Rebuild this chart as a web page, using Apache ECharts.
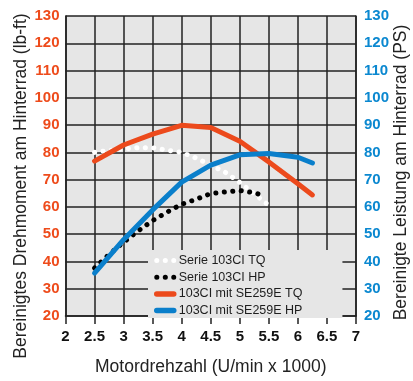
<!DOCTYPE html>
<html>
<head>
<meta charset="utf-8">
<script src="https://cdn.jsdelivr.net/npm/echarts@6/dist/echarts.min.js"></script>
<style>
html,body{margin:0;padding:0;background:#fff;}
#chart{width:413px;height:381px;}
</style>
</head>
<body>
<div id="chart"></div>
<script>
// ---- data ----
var seriesNames = ['Serie 103CI TQ', 'Serie 103CI HP', '103CI mit SE259E TQ', '103CI mit SE259E HP'];
var rpmStockTq = [2.5, 2.75, 3, 3.25, 3.5, 3.75, 4, 4.25, 4.5, 4.75, 5, 5.25, 5.55];
var tqStock    = [80, 80.7, 81.3, 81.7, 81.7, 80.8, 80, 77.9, 75.3, 72.7, 69, 64.8, 59.7];
var rpmStockHp = [2.5, 2.75, 3, 3.25, 3.5, 3.75, 4, 4.25, 4.5, 4.75, 5, 5.25, 5.42];
var hpStock    = [37.6, 42.6, 47, 51.2, 55, 58.1, 61, 62.8, 64.9, 65.5, 66, 65.2, 64.1];
var rpmNew     = [2.5, 3, 3.5, 4, 4.5, 5, 5.5, 6, 6.25];
var tqNew      = [76.8, 82.7, 86.7, 89.9, 89.1, 84.1, 76.5, 68.5, 64.4];
var hpNew      = [35.7, 48, 58.9, 69.1, 75.3, 79.1, 79.6, 78.2, 76.1];
var xTicks = [2, 2.5, 3, 3.5, 4, 4.5, 5, 5.5, 6, 6.5, 7];
var yTicks = [20, 30, 40, 50, 60, 70, 80, 90, 100, 110, 120, 130];
var xTitle = 'Motordrehzahl (U/min x 1000)';
var yLeftTitle = 'Bereinigtes Drehmoment am Hinterrad (lb-ft)';
var yRightTitle = 'Bereinigte Leistung am Hinterrad (PS)';

function pairs(xs, ys) { return xs.map(function (x, i) { return [x, ys[i]]; }); }

var ORANGE = '#ec4a1c', BLUE = '#0a7fcb', GRID = '#222';
var FONT = 'Liberation Sans';
var DOTS = [0.1, 8.4];

var chart = echarts.init(document.getElementById('chart'), null, {renderer: 'canvas'});
chart.setOption({
  animation: false,
  textStyle: {fontFamily: FONT},
  grid: {left: 65.5, right: 57, top: 16, bottom: 52, show: true, backgroundColor: '#e6e6e6', borderWidth: 0},
  xAxis: {
    type: 'value', min: xTicks[0], max: xTicks[xTicks.length - 1], interval: 0.5,
    axisLine: {show: true, lineStyle: {color: GRID, width: 1.5}},
    axisTick: {show: true, length: 8, lineStyle: {color: GRID, width: 1.5}},
    splitLine: {show: true, lineStyle: {color: GRID, width: 1.5}},
    axisLabel: {color: '#111', fontWeight: 'bold', fontSize: 15, fontFamily: FONT, margin: 13,
      formatter: function (v) { return String(v); }},
    name: xTitle, nameLocation: 'middle', nameGap: 42,
    nameTextStyle: {color: '#222', fontSize: 17.5, fontFamily: FONT}
  },
  yAxis: [{
    type: 'value', min: yTicks[0], max: yTicks[yTicks.length - 1], interval: 10,
    axisLine: {show: true, lineStyle: {color: GRID, width: 1.5}},
    axisTick: {show: false},
    splitLine: {show: true, lineStyle: {color: GRID, width: 1.5}},
    axisLabel: {color: '#ee4b1b', fontWeight: 'bold', fontSize: 15, fontFamily: FONT, margin: 6}
  }, {
    type: 'value', position: 'right', min: yTicks[0], max: yTicks[yTicks.length - 1], interval: 10,
    axisLine: {show: true, lineStyle: {color: GRID, width: 1.5}},
    axisTick: {show: false},
    splitLine: {show: false},
    axisLabel: {color: '#0b88d0', fontWeight: 'bold', fontSize: 15, fontFamily: FONT, margin: 8}
  }],
  legend: {
    orient: 'vertical', left: 148, top: 250,
    padding: [4, 40, 1, 6], itemGap: 3.7, itemWidth: 17, itemHeight: 13,
    backgroundColor: '#e6e6e6',
    data: [
      {name: seriesNames[0], lineStyle: {width: 5, type: DOTS, cap: 'round', color: '#ffffff'}},
      {name: seriesNames[1], lineStyle: {width: 5, type: DOTS, cap: 'round', color: '#000000'}},
      {name: seriesNames[2], lineStyle: {width: 5.5, type: 'solid', cap: 'round', color: ORANGE}},
      {name: seriesNames[3], lineStyle: {width: 5.5, type: 'solid', cap: 'round', color: BLUE}}
    ],
    itemStyle: {opacity: 0, borderWidth: 0},
    textStyle: {color: '#1e1e1e', fontSize: 12.5, lineHeight: 13, fontFamily: FONT}
  },
  graphic: [{
    type: 'text', x: 21.5, y: 186, rotation: Math.PI / 2,
    style: {text: yLeftTitle, fill: '#222', font: '17.5px "Liberation Sans"', align: 'center', verticalAlign: 'middle'}
  }, {
    type: 'text', x: 401.5, y: 172.5, rotation: Math.PI / 2,
    style: {text: yRightTitle, fill: '#222', font: '17.5px "Liberation Sans"', align: 'center', verticalAlign: 'middle'}
  }],
  series: [{
    name: seriesNames[0], type: 'line', yAxisIndex: 0, symbol: 'none',
    data: pairs(rpmStockTq, tqStock),
    lineStyle: {color: '#ffffff', width: 5, type: DOTS, cap: 'round'},
    itemStyle: {color: '#ffffff'}
  }, {
    name: seriesNames[1], type: 'line', yAxisIndex: 1, symbol: 'none',
    data: pairs(rpmStockHp, hpStock),
    lineStyle: {color: '#000000', width: 5, type: DOTS, cap: 'round'},
    itemStyle: {color: '#000000'}
  }, {
    name: seriesNames[2], type: 'line', yAxisIndex: 0, symbol: 'none',
    data: pairs(rpmNew, tqNew),
    lineStyle: {color: ORANGE, width: 5, cap: 'round', join: 'round'},
    itemStyle: {color: ORANGE}
  }, {
    name: seriesNames[3], type: 'line', yAxisIndex: 1, symbol: 'none',
    data: pairs(rpmNew, hpNew),
    lineStyle: {color: BLUE, width: 5, cap: 'round', join: 'round'},
    itemStyle: {color: BLUE}
  }]
});
</script>
</body>
</html>
